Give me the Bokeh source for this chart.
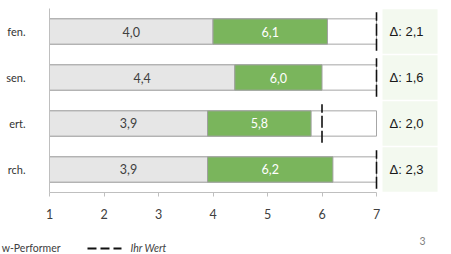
from bokeh.plotting import figure
from bokeh.models import LinearAxis, FixedTicker, Range1d
from bokeh.core.properties import value
from bokeh.embed import file_html
from bokeh.resources import INLINE

categories = ["fen.", "sen.", "ert.", "rch."]
low_performer = [4.0, 4.4, 3.9, 3.9]
top_performer = [6.1, 6.0, 5.8, 6.2]
ihr_wert = [7.0, 7.0, 6.0, 7.0]
delta = [2.1, 1.6, 2.0, 2.3]
x_ticks = [1, 2, 3, 4, 5, 6, 7]
legend_labels = ["w-Performer", "Ihr Wert"]
page_number = "3"


def de(v):
    return f"{v:.1f}".replace(".", ",")


n = len(categories)
ys = [n - i - 0.5 for i in range(n)]

p = figure(width=451, height=254, title=None,
           x_range=Range1d(0.1009, 8.376), y_range=Range1d(-1.348, 4.174),
           output_backend="svg", toolbar_location=None,
           x_axis_location=None, y_axis_location=None, min_border=0)
p.outline_line_color = None
for g in p.grid:
    g.visible = False
p.background_fill_color = "white"
p.border_fill_color = "white"

AX = "#bfbfbf"
TXT = "#404040"

xaxis = LinearAxis(fixed_location=0, bounds=(1, 7), ticker=FixedTicker(ticks=x_ticks))
xaxis.axis_line_color = AX
xaxis.major_tick_line_color = AX
xaxis.major_tick_out = 4
xaxis.major_tick_in = 0
xaxis.minor_tick_line_color = None
xaxis.major_label_text_font = "Lato"
xaxis.major_label_text_font_size = "12.5px"
xaxis.major_label_text_color = TXT
xaxis.major_label_standoff = 13
p.add_layout(xaxis, "below")

yaxis = LinearAxis(fixed_location=1, bounds=(0, n), ticker=FixedTicker(ticks=[]))
yaxis.axis_line_color = AX
yaxis.major_tick_line_color = None
yaxis.minor_tick_line_color = None
yaxis.major_label_text_font_size = "0px"
p.add_layout(yaxis, "left")

BH = 0.55
# background bar 1..7
p.hbar(y=ys, left=[1] * n, right=[7] * n, height=BH,
       fill_color="white", line_color="#a6a6a6", line_width=1)
# low performer
p.hbar(y=ys, left=[1] * n, right=low_performer, height=BH,
       fill_color="#e6e6e6", line_color="#a6a6a6", line_width=1)
# top performer
p.hbar(y=ys, left=low_performer, right=top_performer, height=BH,
       fill_color="#7ab55c", line_color="#a0a0a0", line_width=1)

# value labels
p.text(x=[(1 + v) / 2 for v in low_performer], y=ys, text=[de(v) for v in low_performer],
       text_align="center", text_baseline="middle", text_font=value("Lato"),
       text_font_size="12.5px", text_color=TXT)
p.text(x=[(a + b) / 2 for a, b in zip(low_performer, top_performer)], y=ys,
       text=[de(v) for v in top_performer],
       text_align="center", text_baseline="middle", text_font=value("Lato"),
       text_font_size="12.5px", text_color="white")

# Ihr Wert dashed markers
p.segment(x0=ihr_wert, y0=[y - 0.42 for y in ys], x1=ihr_wert, y1=[y + 0.42 for y in ys],
          line_color="#111111", line_width=1.6, line_dash="12 3")

# delta boxes
p.quad(left=[7.11] * n, right=[8.12] * n, top=[y + 0.485 for y in ys],
       bottom=[y - 0.485 for y in ys], fill_color="#f3f9ef", line_color=None)
p.text(x=[7.24] * n, y=ys, text=["Δ: " + de(d) for d in delta],
       text_align="left", text_baseline="middle", text_font=value("Liberation Sans"),
       text_font_size="13px", text_color="#1a1a1a")

# category labels
p.text(x=[0.56] * n, y=ys, text=categories, text_align="right", text_baseline="middle",
       text_font=value("Lato"), text_font_size="11px", text_color="#333333")

# legend
p.text(x=[1.202], y=[-1.217], text=[legend_labels[0]], text_align="right",
       text_baseline="middle", text_font=value("Lato"), text_font_size="10.5px",
       text_color=TXT)
p.segment(x0=[1.697], y0=[-1.217], x1=[2.321], y1=[-1.217], line_color="#111111",
          line_width=2, line_dash="9 4")
p.text(x=[2.486], y=[-1.217], text=[legend_labels[1]], text_align="left",
       text_baseline="middle", text_font=value("Lato"), text_font_size="10.5px",
       text_font_style="italic", text_color=TXT)

# page number
p.text(x=[7.844], y=[-1.065], text=[page_number], text_align="center",
       text_baseline="middle", text_font=value("Lato"), text_font_size="10.5px",
       text_color="#7f7f7f")

open("out.html", "w").write(file_html(p, INLINE))
